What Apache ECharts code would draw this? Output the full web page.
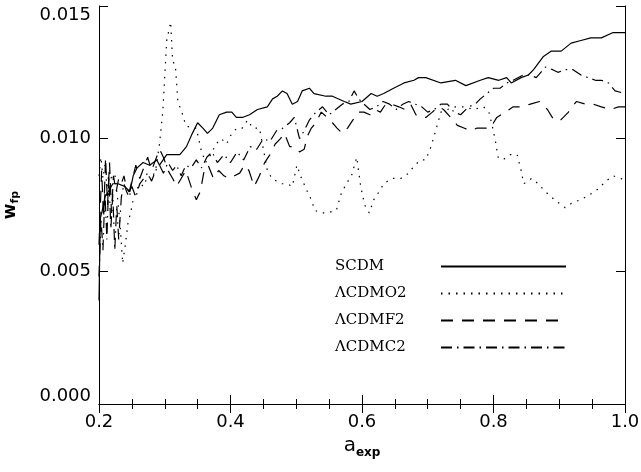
<!DOCTYPE html>
<html>
<head>
<meta charset="utf-8">
<script src="https://cdn.jsdelivr.net/npm/echarts@6/dist/echarts.min.js"></script>
<style>
  html, body { margin: 0; padding: 0; background: #fff; }
  #chart { width: 641px; height: 472px; }
</style>
</head>
<body>
<div id="chart"></div>
<script>
// Axis ticks
const xTicks = [0.2, 0.4, 0.6, 0.8, 1.0];
const yTicks = [0.000, 0.005, 0.010, 0.015];

// w_fp as a function of a_exp, one [a, w] list per model
const scdm = [
  [0.200,0.0039],[0.202,0.0070],[0.205,0.0073],[0.209,0.0078],[0.214,0.0080],
  [0.221,0.0083],[0.229,0.0083],[0.239,0.0082],[0.247,0.0080],[0.252,0.0086],
  [0.258,0.0089],[0.267,0.0091],[0.277,0.0090],[0.288,0.0092],[0.292,0.0090],
  [0.303,0.0094],[0.312,0.0094],[0.323,0.0094],[0.333,0.0097],[0.342,0.0102],
  [0.350,0.0106],[0.358,0.0104],[0.365,0.0102],[0.373,0.0104],[0.383,0.0109],
  [0.394,0.0110],[0.402,0.0110],[0.409,0.0108],[0.418,0.0108],[0.429,0.0109],
  [0.441,0.0111],[0.456,0.0112],[0.464,0.0115],[0.471,0.0116],[0.479,0.0118],
  [0.486,0.0117],[0.494,0.0113],[0.502,0.0114],[0.509,0.0118],[0.520,0.0119],
  [0.527,0.0117],[0.545,0.0116],[0.555,0.0116],[0.573,0.0114],[0.583,0.0113],
  [0.600,0.0114],[0.614,0.0117],[0.623,0.0116],[0.633,0.0117],[0.648,0.0119],
  [0.664,0.0121],[0.679,0.0122],[0.686,0.0123],[0.697,0.0123],[0.720,0.0121],
  [0.742,0.0122],[0.758,0.0120],[0.780,0.0122],[0.792,0.0123],[0.808,0.0122],
  [0.820,0.0123],[0.827,0.0121],[0.842,0.0123],[0.853,0.0124],[0.861,0.0126],
  [0.876,0.0131],[0.888,0.0133],[0.903,0.0133],[0.918,0.0136],[0.933,0.0137],
  [0.948,0.0138],[0.964,0.0138],[0.982,0.0140],[1.000,0.0140]
];

const lcdmO2 = [
  [0.200,0.0086],[0.203,0.0093],[0.206,0.0085],[0.209,0.0090],[0.212,0.0082],
  [0.216,0.0088],[0.220,0.0084],[0.224,0.0087],[0.228,0.0078],[0.232,0.0068],
  [0.236,0.0053],[0.240,0.0060],[0.244,0.0068],[0.248,0.0072],[0.252,0.0077],
  [0.256,0.0080],[0.262,0.0083],[0.268,0.0082],[0.274,0.0086],[0.280,0.0085],
  [0.286,0.0088],[0.292,0.0098],[0.297,0.0110],[0.303,0.0137],[0.309,0.0144],
  [0.312,0.0129],[0.316,0.0128],[0.320,0.0114],[0.326,0.0110],[0.332,0.0105],
  [0.340,0.0104],[0.348,0.0104],[0.355,0.0096],[0.362,0.0091],[0.370,0.0094],
  [0.378,0.0098],[0.386,0.0100],[0.394,0.0098],[0.402,0.0102],[0.410,0.0104],
  [0.418,0.0104],[0.426,0.0107],[0.434,0.0104],[0.444,0.0104],[0.450,0.0096],
  [0.456,0.0088],[0.463,0.0085],[0.470,0.0084],[0.478,0.0083],[0.486,0.0083],
  [0.494,0.0082],[0.501,0.0090],[0.508,0.0085],[0.517,0.0080],[0.523,0.0077],
  [0.528,0.0073],[0.538,0.0072],[0.547,0.0072],[0.561,0.0073],[0.568,0.0079],
  [0.576,0.0083],[0.584,0.0086],[0.592,0.0093],[0.598,0.0082],[0.604,0.0075],
  [0.611,0.0072],[0.618,0.0077],[0.626,0.0080],[0.633,0.0083],[0.645,0.0085],
  [0.659,0.0085],[0.671,0.0087],[0.680,0.0090],[0.690,0.0092],[0.697,0.0092],
  [0.705,0.0097],[0.712,0.0103],[0.720,0.0110],[0.730,0.0111],[0.742,0.0112],
  [0.755,0.0112],[0.770,0.0111],[0.785,0.0112],[0.793,0.0110],[0.798,0.0105],
  [0.803,0.0099],[0.807,0.0093],[0.814,0.0092],[0.826,0.0094],[0.836,0.0094],
  [0.842,0.0088],[0.846,0.0083],[0.858,0.0085],[0.868,0.0083],[0.879,0.0080],
  [0.888,0.0078],[0.898,0.0076],[0.909,0.0074],[0.921,0.0076],[0.933,0.0077],
  [0.947,0.0079],[0.959,0.0081],[0.971,0.0084],[0.982,0.0086],[0.994,0.0085],
  [1.000,0.0084]
];

const lcdmF2 = [
  [0.200,0.0060],[0.204,0.0088],[0.207,0.0070],[0.210,0.0093],[0.213,0.0075],
  [0.216,0.0091],[0.219,0.0072],[0.222,0.0086],[0.226,0.0080],[0.230,0.0085],
  [0.234,0.0083],[0.238,0.0086],[0.242,0.0081],[0.246,0.0080],[0.250,0.0084],
  [0.256,0.0090],[0.262,0.0085],[0.268,0.0089],[0.274,0.0093],[0.280,0.0088],
  [0.286,0.0092],[0.292,0.0096],[0.298,0.0093],[0.305,0.0088],[0.312,0.0085],
  [0.318,0.0082],[0.325,0.0085],[0.332,0.0088],[0.340,0.0082],[0.348,0.0077],
  [0.354,0.0080],[0.360,0.0088],[0.366,0.0090],[0.374,0.0085],[0.382,0.0088],
  [0.390,0.0086],[0.398,0.0085],[0.406,0.0086],[0.414,0.0087],[0.421,0.0090],
  [0.428,0.0088],[0.436,0.0082],[0.444,0.0086],[0.452,0.0091],[0.460,0.0094],
  [0.468,0.0098],[0.476,0.0100],[0.482,0.0102],[0.490,0.0097],[0.497,0.0097],
  [0.505,0.0095],[0.512,0.0096],[0.517,0.0101],[0.523,0.0104],[0.530,0.0106],
  [0.538,0.0110],[0.547,0.0108],[0.555,0.0106],[0.562,0.0104],[0.570,0.0102],
  [0.578,0.0104],[0.586,0.0107],[0.595,0.0110],[0.603,0.0110],[0.612,0.0109],
  [0.620,0.0111],[0.628,0.0110],[0.636,0.0113],[0.645,0.0113],[0.656,0.0112],
  [0.665,0.0111],[0.674,0.0113],[0.682,0.0109],[0.689,0.0108],[0.697,0.0108],
  [0.707,0.0110],[0.716,0.0112],[0.724,0.0111],[0.735,0.0108],[0.745,0.0105],
  [0.755,0.0104],[0.765,0.0103],[0.775,0.0104],[0.785,0.0104],[0.795,0.0104],
  [0.805,0.0108],[0.818,0.0110],[0.830,0.0112],[0.842,0.0112],[0.856,0.0113],
  [0.870,0.0114],[0.882,0.0111],[0.892,0.0107],[0.902,0.0107],[0.914,0.0110],
  [0.926,0.0114],[0.940,0.0113],[0.952,0.0113],[0.964,0.0112],[0.978,0.0111],
  [0.990,0.0112],[1.000,0.0112]
];

const lcdmC2 = [
  [0.200,0.0048],[0.203,0.0070],[0.206,0.0058],[0.209,0.0080],[0.212,0.0062],
  [0.215,0.0086],[0.218,0.0066],[0.221,0.0079],[0.224,0.0058],[0.227,0.0075],
  [0.230,0.0062],[0.234,0.0078],[0.238,0.0083],[0.242,0.0080],[0.246,0.0078],
  [0.250,0.0082],[0.256,0.0078],[0.262,0.0083],[0.268,0.0085],[0.274,0.0087],
  [0.280,0.0084],[0.286,0.0088],[0.292,0.0090],[0.298,0.0087],[0.305,0.0091],
  [0.312,0.0088],[0.318,0.0090],[0.325,0.0086],[0.332,0.0090],[0.340,0.0089],
  [0.348,0.0092],[0.356,0.0089],[0.364,0.0093],[0.372,0.0095],[0.380,0.0091],
  [0.390,0.0094],[0.400,0.0091],[0.410,0.0095],[0.420,0.0092],[0.430,0.0097],
  [0.440,0.0096],[0.450,0.0100],[0.460,0.0099],[0.470,0.0103],[0.480,0.0104],
  [0.490,0.0106],[0.497,0.0108],[0.505,0.0100],[0.512,0.0103],[0.520,0.0107],
  [0.530,0.0110],[0.540,0.0112],[0.550,0.0109],[0.560,0.0111],[0.570,0.0113],
  [0.580,0.0114],[0.588,0.0118],[0.595,0.0115],[0.603,0.0113],[0.612,0.0111],
  [0.622,0.0112],[0.632,0.0114],[0.642,0.0113],[0.652,0.0111],[0.662,0.0113],
  [0.671,0.0114],[0.681,0.0113],[0.691,0.0112],[0.700,0.0110],[0.710,0.0111],
  [0.720,0.0113],[0.730,0.0113],[0.740,0.0110],[0.750,0.0109],[0.762,0.0112],
  [0.772,0.0113],[0.780,0.0115],[0.790,0.0117],[0.800,0.0119],[0.810,0.0119],
  [0.820,0.0121],[0.830,0.0122],[0.845,0.0124],[0.855,0.0124],[0.865,0.0123],
  [0.879,0.0127],[0.890,0.0126],[0.898,0.0125],[0.909,0.0126],[0.921,0.0126],
  [0.933,0.0124],[0.944,0.0123],[0.955,0.0122],[0.964,0.0122],[0.975,0.0121],
  [0.985,0.0118],[1.000,0.0117]
];

const seriesNames = ['SCDM', '\u039BCDMO2', '\u039BCDMF2', '\u039BCDMC2'];

const INK = '#000';
const labelFont = 'DejaVu Sans';

function frameAxis(base) {
  return Object.assign({
    type: 'value',
    axisLine: { show: true, lineStyle: { color: INK, width: 1 } },
    axisTick: { show: true, inside: true, length: 9, lineStyle: { color: INK } },
    splitLine: { show: false },
  }, base);
}

// y labels: the top one sits just inside the frame, the bottom one just above the x axis
function yLabel(v) {
  const s = v.toFixed(3);
  if (v >= yTicks[yTicks.length - 1] - 1e-9) return '{hi|' + s + '}';
  if (v <= yTicks[0] + 1e-9) return '{lo|' + s + '}';
  return '{mid|' + s + '}';
}

const chart = echarts.init(document.getElementById('chart'), null, { renderer: 'canvas' });

const lineW = 1.2;
function lineSeries(name, data, type) {
  return {
    name: name,
    type: 'line',
    data: data,
    symbol: 'none',
    showSymbol: false,
    animation: false,
    xAxisIndex: 0,
    yAxisIndex: 0,
    lineStyle: { color: INK, width: lineW, type: type },
    itemStyle: { color: INK }
  };
}

const yLabelText = { fontFamily: labelFont, fontSize: 18, color: INK };

chart.setOption({
  backgroundColor: '#fff',
  animation: false,
  grid: { left: 99, right: 16, top: 6, bottom: 68, containLabel: false, outerBoundsMode: 'none' },
  xAxis: [
    frameAxis({
      min: xTicks[0], max: xTicks[xTicks.length - 1], interval: 0.2,
      position: 'bottom',
      minorTick: { show: true, splitNumber: 4, length: 5, lineStyle: { color: INK } },
      axisLabel: {
        color: INK, fontFamily: labelFont, fontSize: 18, margin: 9,
        formatter: v => v.toFixed(1)
      },
      name: '{a|a}{s|exp}',
      nameLocation: 'middle',
      nameGap: 26,
      nameTextStyle: {
        rich: {
          a: { fontFamily: labelFont, fontSize: 20, color: INK },
          s: { fontFamily: labelFont, fontSize: 12, fontWeight: 'bold', color: INK, padding: [14, 0, 0, 0] }
        }
      }
    }),
    frameAxis({
      min: xTicks[0], max: xTicks[xTicks.length - 1], interval: 0.2,
      position: 'top',
      minorTick: { show: true, splitNumber: 4, length: 5, lineStyle: { color: INK } },
      axisLabel: { show: false }
    })
  ],
  yAxis: [
    frameAxis({
      min: yTicks[0], max: yTicks[yTicks.length - 1], interval: 0.005,
      position: 'left',
      axisLabel: {
        margin: 8,
        formatter: yLabel,
        rich: {
          hi: Object.assign({ padding: [18, 0, 0, 0] }, yLabelText),
          mid: Object.assign({}, yLabelText),
          lo: Object.assign({ padding: [0, 0, 16, 0] }, yLabelText)
        }
      },
      name: '{w|w}{s|fp}',
      nameLocation: 'middle',
      nameGap: 78,
      nameTextStyle: {
        rich: {
          w: { fontFamily: labelFont, fontSize: 17, fontWeight: 'bold', color: INK },
          s: { fontFamily: labelFont, fontSize: 11, fontWeight: 'bold', color: INK, padding: [10, 0, 0, 0] }
        }
      }
    }),
    frameAxis({
      min: yTicks[0], max: yTicks[yTicks.length - 1], interval: 0.005,
      position: 'right',
      axisLabel: { show: false }
    })
  ],
  legend: {
    orient: 'vertical',
    left: 330,
    top: 254,
    align: 'right',
    itemWidth: 125,
    itemHeight: 14,
    itemGap: 12,
    selectedMode: false,
    data: seriesNames,
    itemStyle: { opacity: 0 },
    formatter: name => '{n|' + name + '}',
    textStyle: {
      color: INK,
      rich: {
        n: { fontFamily: 'DejaVu Serif', fontSize: 15, color: INK, width: 101, align: 'left', lineHeight: 14 }
      }
    }
  },
  series: [
    lineSeries(seriesNames[0], scdm, 'solid'),
    lineSeries(seriesNames[1], lcdmO2, [1.5, 6]),
    lineSeries(seriesNames[2], lcdmF2, [12, 9]),
    lineSeries(seriesNames[3], lcdmC2, [11, 5, 1.5, 5])
  ]
});
</script>
</body>
</html>
